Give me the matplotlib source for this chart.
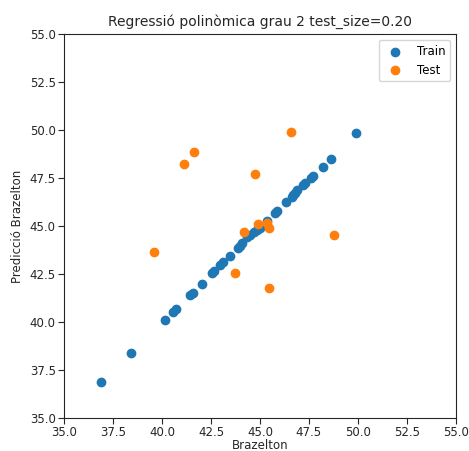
import matplotlib
matplotlib.use("Agg")
import matplotlib.pyplot as plt

# Train: real value vs prediction
train_real = [36.89, 38.42, 40.15, 40.56, 40.71, 41.43, 41.58, 42.04, 42.55, 42.65,
              42.96, 43.11, 43.47, 43.88, 43.98, 44.08, 44.34, 44.49, 44.69, 44.85,
              45.00, 45.36, 45.77, 45.87, 46.33, 46.63, 46.68, 46.79, 46.89, 47.19,
              47.30, 47.60, 47.70, 48.21, 48.62, 49.90]
train_pred = [36.88, 38.39, 40.10, 40.52, 40.68, 41.41, 41.51, 41.98, 42.55, 42.66,
              42.97, 43.13, 43.44, 43.85, 43.96, 44.11, 44.43, 44.53, 44.69, 44.79,
              44.90, 45.26, 45.68, 45.78, 46.25, 46.51, 46.61, 46.72, 46.88, 47.14,
              47.24, 47.50, 47.60, 48.07, 48.49, 49.84]

# Test
test_real = [39.59, 41.12, 41.63, 43.72, 44.18, 44.74, 44.90, 45.36, 45.46, 45.46, 46.58, 48.78]
test_pred = [43.65, 48.23, 48.85, 42.55, 44.69, 47.71, 45.10, 45.16, 44.90, 41.77, 49.90, 44.53]

fig = plt.figure(figsize=(4.69, 4.51), dpi=100)
ax = fig.add_axes([0.1365, 0.0732, 0.8355, 0.8514])

ax.scatter(train_real, train_pred, s=36, color="#1f77b4", label="Train")
ax.scatter(test_real, test_pred, s=36, color="#ff7f0e", label="Test")

ax.set_xlim(35, 55)
ax.set_ylim(35, 55)
ax.set_title("Regressió polinòmica grau 2 test_size=0.20", fontsize=10, color="#262626")
ax.set_xlabel("Brazelton", fontsize=8.5, color="#262626", labelpad=0)
ax.set_ylabel("Predicció Brazelton", fontsize=8.5, color="#262626")
ax.tick_params(labelsize=8.5, colors="#262626", length=4, pad=2)
for sp in ax.spines.values():
    sp.set_color("#262626")
ax.legend(loc="upper right", fontsize=8.5)

fig.savefig("out.png", dpi=100)
